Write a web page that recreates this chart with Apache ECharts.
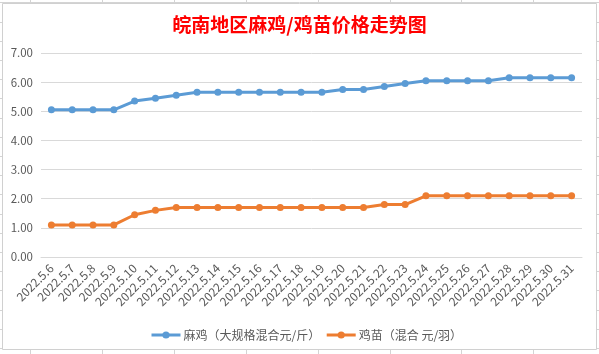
<!DOCTYPE html>
<html>
<head>
<meta charset="utf-8">
<script src="https://cdn.jsdelivr.net/npm/echarts@6/dist/echarts.min.js"></script>
<style>
html,body{margin:0;padding:0;background:#fff;}
#c{width:599px;height:354px;}
</style>
</head>
<body>
<div id="c"></div>
<script>
const categories = ['2022.5.6','2022.5.7','2022.5.8','2022.5.9','2022.5.10','2022.5.11','2022.5.12','2022.5.13','2022.5.14','2022.5.15','2022.5.16','2022.5.17','2022.5.18','2022.5.19','2022.5.20','2022.5.21','2022.5.22','2022.5.23','2022.5.24','2022.5.25','2022.5.26','2022.5.27','2022.5.28','2022.5.29','2022.5.30','2022.5.31'];
const majiValues = [5.05,5.05,5.05,5.05,5.35,5.45,5.55,5.65,5.65,5.65,5.65,5.65,5.65,5.65,5.75,5.75,5.85,5.95,6.05,6.05,6.05,6.05,6.15,6.15,6.15,6.15];
const jimiaoValues = [1.1,1.1,1.1,1.1,1.45,1.6,1.7,1.7,1.7,1.7,1.7,1.7,1.7,1.7,1.7,1.7,1.8,1.8,2.1,2.1,2.1,2.1,2.1,2.1,2.1,2.1];
const seriesNames = ['麻鸡（大规格混合元/斤）','鸡苗（混合 元/羽）'];
const titleText = '皖南地区麻鸡/鸡苗价格走势图';

const chart = echarts.init(document.getElementById('c'), null, {renderer:'canvas'});

// Excel sheet cell lines behind the chart (decoration)
const bg = [];
for (let x = 30; x < 599; x += 71.9) {
  bg.push({type:'line', silent:true, z:-10, shape:{x1:Math.round(x)+0.5,y1:0,x2:Math.round(x)+0.5,y2:354}, style:{stroke:'#d4d4d4',lineWidth:1}});
}
for (let y = 2.4; y < 354; y += 19.2) {
  bg.push({type:'line', silent:true, z:-10, shape:{x1:0,y1:Math.round(y)+0.5,x2:599,y2:Math.round(y)+0.5}, style:{stroke:'#d4d4d4',lineWidth:1}});
}
bg.push({type:'rect', silent:true, z:-5, shape:{x:2.5,y:3.5,width:594,height:346}, style:{fill:'#ffffff',stroke:'#d0d0d0',lineWidth:1}});

const font = '"Noto Sans CJK SC", "Microsoft YaHei", sans-serif';

chart.setOption({
  animation:false,
  backgroundColor:'#ffffff',
  graphic: bg,
  title:{
    text:titleText,
    left:'center',
    top:10,
    textStyle:{color:'#ff0000',fontSize:19,fontWeight:'bold',fontFamily:font}
  },
  legend:{
    left:145,
    top:324,
    itemWidth:29,
    itemHeight:9,
    itemGap:5,
    lineStyle:{width:3},
    textStyle:{color:'#595959',fontSize:12,fontFamily:font,padding:[0,0,0,-2]},
    data:seriesNames
  },
  grid:{left:41,right:17,top:53,bottom:97,containLabel:false},
  xAxis:{
    type:'category',
    data:categories,
    boundaryGap:true,
    axisLine:{show:true,lineStyle:{color:'#d9d9d9',width:1}},
    axisTick:{show:false},
    axisLabel:{rotate:45,interval:0,color:'#595959',fontSize:12,fontFamily:font,margin:9}
  },
  yAxis:{
    type:'value',
    min:0,max:7,interval:1,
    axisLine:{show:false},
    axisTick:{show:false},
    splitLine:{lineStyle:{color:'#d9d9d9',width:1}},
    axisLabel:{color:'#595959',fontSize:11.5,fontFamily:font,margin:8,formatter:v=>v.toFixed(2)}
  },
  series:[
    {name:seriesNames[0],type:'line',data:majiValues,symbol:'circle',symbolSize:7,
     lineStyle:{color:'#5b9bd5',width:3},itemStyle:{color:'#5b9bd5'}},
    {name:seriesNames[1],type:'line',data:jimiaoValues,symbol:'circle',symbolSize:7,
     lineStyle:{color:'#ed7d31',width:3},itemStyle:{color:'#ed7d31'}}
  ]
});
</script>
</body>
</html>
